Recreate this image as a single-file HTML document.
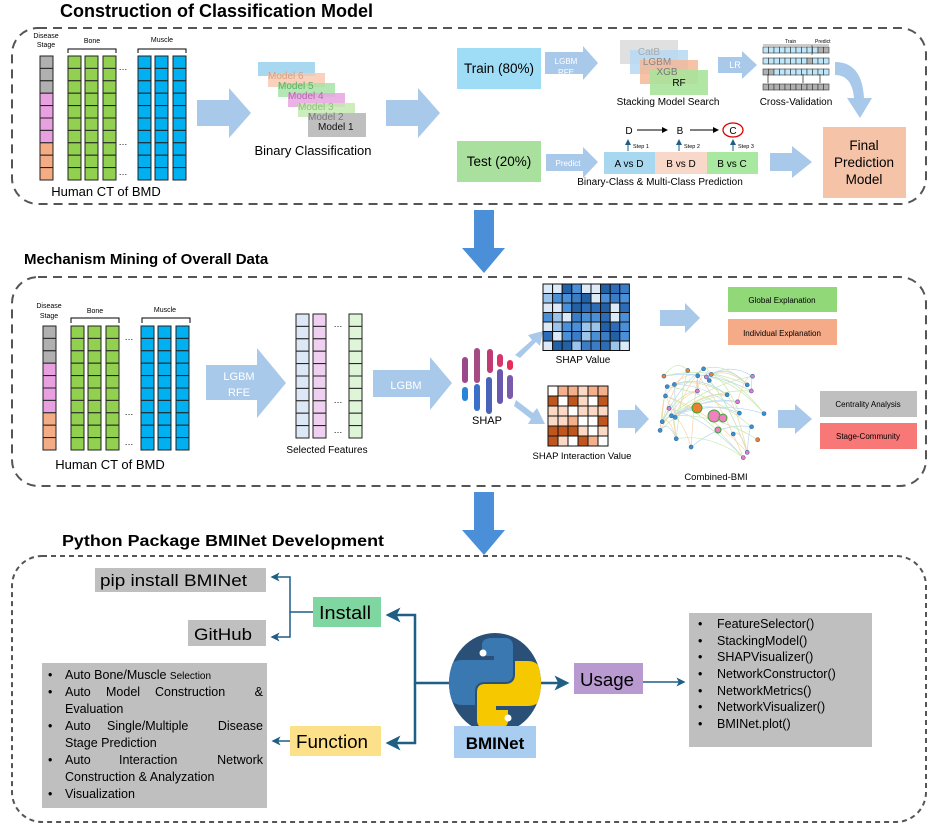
<!DOCTYPE html>
<html><head><meta charset="utf-8"><style>
html,body{margin:0;padding:0;background:#fff;}
svg{display:block;font-family:"Liberation Sans",sans-serif;}
</style></head><body>
<svg id="s" width="942" height="828" viewBox="0 0 942 828" xmlns="http://www.w3.org/2000/svg">
<defs>
<marker id="ah" markerWidth="6" markerHeight="6" refX="5" refY="3" orient="auto" markerUnits="strokeWidth"><path d="M0,0 L6,3 L0,6 L1.5,3 z" fill="#1f5f86"/></marker>
<marker id="ak" markerWidth="6" markerHeight="6" refX="5" refY="3" orient="auto"><path d="M0,0 L6,3 L0,6 z" fill="#000"/></marker>
<marker id="ab" markerWidth="6" markerHeight="6" refX="5" refY="3" orient="auto"><path d="M0,0 L6,3 L0,6 z" fill="#1f5f86"/></marker>
</defs>

<!-- Section 1 -->
<text x="60" y="17" font-size="18" font-weight="bold">Construction of Classification Model</text>
<rect x="12" y="28" width="914" height="176" rx="26" fill="none" stroke="#555" stroke-width="2" stroke-dasharray="9,6"/>
<g id="cols1"></g>
<text x="46" y="38" font-size="7" text-anchor="middle">Disease</text>
<text x="46" y="47" font-size="7" text-anchor="middle">Stage</text>
<text x="92" y="43" font-size="7" text-anchor="middle">Bone</text>
<text x="162" y="42" font-size="7" text-anchor="middle">Muscle</text>
<path d="M68,53 V49 H116 V53 M138,53 V49 H186 V53" fill="none" stroke="#000" stroke-width="1"/>
<text x="123" y="70" font-size="9" text-anchor="middle">…</text>
<text x="123" y="145" font-size="9" text-anchor="middle">…</text>
<text x="123" y="175" font-size="9" text-anchor="middle">…</text>
<text x="106" y="196" font-size="13" text-anchor="middle">Human CT of BMD</text>

<path d="M197,100 H229 V88 L251,113 L229,138 V126 H197 Z" fill="#a9c9ea"/>
<path d="M386,100 H418 V88 L440,113 L418,138 V126 H386 Z" fill="#a9c9ea"/>

<g font-size="10">
<rect x="258" y="62" width="57" height="14" fill="#a8d8f0"/>
<rect x="268" y="73" width="57" height="14" fill="#f8c9b0" opacity="0.85"/>
<rect x="278" y="83" width="57" height="14" fill="#a6e3a6" opacity="0.85"/>
<rect x="288" y="93" width="57" height="14" fill="#e8a6e0" opacity="0.85"/>
<rect x="298" y="103" width="57" height="14" fill="#c6eab0" opacity="0.85"/>
<rect x="308" y="113" width="58" height="24" fill="#bfbfbf"/>
<text x="268" y="79" fill="#d7a07f">Model 6</text>
<text x="278" y="89" fill="#5fae5f">Model 5</text>
<text x="288" y="99" fill="#b766b0">Model 4</text>
<text x="298" y="110" fill="#8ac47a">Model 3</text>
<text x="308" y="120" fill="#777">Model 2</text>
<text x="318" y="130" fill="#111">Model 1</text>
</g>
<text x="313" y="155" font-size="13" text-anchor="middle">Binary Classification</text>

<rect x="457" y="48" width="84" height="41" fill="#9fdcf5"/>
<text x="499" y="73" font-size="13.5" text-anchor="middle">Train (80%)</text>
<path d="M545,52 H583 V46 L598,63 L583,80 V74 H545 Z" fill="#a9c9ea"/>
<text x="566" y="64" font-size="8" fill="#fff" text-anchor="middle">LGBM</text>
<text x="566" y="75" font-size="8" fill="#fff" text-anchor="middle">RFE</text>
<rect x="620" y="40" width="58" height="24" fill="#e0e0e0"/>
<rect x="630" y="50" width="58" height="24" fill="#b6d8f2" opacity="0.85"/>
<rect x="640" y="60" width="58" height="24" fill="#f5b898" opacity="0.85"/>
<rect x="650" y="70" width="58" height="25" fill="#a8e39a" opacity="0.9"/>
<text x="649" y="55" font-size="10" fill="#aaa" text-anchor="middle">CatB</text>
<text x="657" y="65" font-size="10" fill="#888" text-anchor="middle">LGBM</text>
<text x="667" y="75" font-size="10" fill="#777" text-anchor="middle">XGB</text>
<text x="679" y="86" font-size="10" text-anchor="middle">RF</text>
<text x="668" y="105" font-size="10" text-anchor="middle">Stacking Model Search</text>
<path d="M718,57 H742 V51 L757,65 L742,79 V73 H718 Z" fill="#a9c9ea"/>
<text x="735" y="68" font-size="9" fill="#fff" text-anchor="middle">LR</text>
<g id="cv"></g>
<text x="785" y="43" font-size="5">Train</text><text x="815" y="43" font-size="5">Predict</text>
<text x="796" y="105" font-size="10" text-anchor="middle">Cross-Validation</text>
<path d="M835,62 Q862,62 864,98 L872,98 L860,118 L847,98 L854,98 Q852,75 835,75 Z" fill="#a9c9ea"/>
<rect x="823" y="127" width="83" height="71" fill="#f5c3a8"/>
<text x="864" y="150" font-size="13.5" text-anchor="middle">Final</text>
<text x="864" y="167" font-size="13.5" text-anchor="middle">Prediction</text>
<text x="864" y="184" font-size="13.5" text-anchor="middle">Model</text>

<rect x="457" y="141" width="84" height="41" fill="#a9e09e"/>
<text x="499" y="166" font-size="13.5" text-anchor="middle">Test (20%)</text>
<path d="M546,154 H583 V147 L598,162 L583,178 V171 H546 Z" fill="#a9c9ea"/>
<text x="568" y="166" font-size="8" fill="#fff" text-anchor="middle">Predict</text>
<rect x="604" y="152" width="51" height="22" fill="#a8d8f0"/><text x="629" y="167" font-size="10" text-anchor="middle">A vs D</text>
<rect x="655" y="152" width="52" height="22" fill="#f8d8c8"/><text x="681" y="167" font-size="10" text-anchor="middle">B vs D</text>
<rect x="707" y="152" width="51" height="22" fill="#a8e8a0"/><text x="732" y="167" font-size="10" text-anchor="middle">B vs C</text>
<text x="660" y="185" font-size="10" text-anchor="middle">Binary-Class &amp; Multi-Class Prediction</text>
<text x="629" y="134" font-size="10" text-anchor="middle">D</text>
<text x="680" y="134" font-size="10" text-anchor="middle">B</text>
<text x="733" y="134" font-size="10" text-anchor="middle">C</text>
<ellipse cx="733" cy="130" rx="10" ry="7" fill="none" stroke="#d00" stroke-width="1.3"/>
<line x1="637" y1="130" x2="667" y2="130" stroke="#000" stroke-width="1" marker-end="url(#ak)"/>
<line x1="690" y1="130" x2="718" y2="130" stroke="#000" stroke-width="1" marker-end="url(#ak)"/>
<g stroke="#1f5f86" stroke-width="1"><line x1="628" y1="151" x2="628" y2="140" marker-end="url(#ab)"/><line x1="679" y1="151" x2="679" y2="140" marker-end="url(#ab)"/><line x1="733" y1="151" x2="733" y2="140" marker-end="url(#ab)"/></g>
<text x="633" y="148" font-size="5.5">Step 1</text><text x="684" y="148" font-size="5.5">Step 2</text><text x="738" y="148" font-size="5.5">Step 3</text>
<path d="M770,153 H792 V146 L812,162 L792,178 V171 H770 Z" fill="#a9c9ea"/>

<path d="M474,210 H494 V248 H505 L484,273 L462,248 H474 Z" fill="#4a8fd8"/>

<!-- Section 2 -->
<text x="24" y="264" font-size="15" font-weight="bold">Mechanism Mining of Overall Data</text>
<rect x="12" y="277" width="914" height="209" rx="26" fill="none" stroke="#555" stroke-width="2" stroke-dasharray="9,6"/>
<g id="cols2"></g>
<text x="49" y="308" font-size="7" text-anchor="middle">Disease</text>
<text x="49" y="318" font-size="7" text-anchor="middle">Stage</text>
<text x="95" y="313" font-size="7" text-anchor="middle">Bone</text>
<text x="165" y="312" font-size="7" text-anchor="middle">Muscle</text>
<path d="M71,323 V318 H119 V323 M142,323 V318 H190 V323" fill="none" stroke="#000" stroke-width="1"/>
<text x="129" y="340" font-size="9" text-anchor="middle">…</text>
<text x="129" y="415" font-size="9" text-anchor="middle">…</text>
<text x="129" y="445" font-size="9" text-anchor="middle">…</text>
<text x="110" y="469" font-size="13" text-anchor="middle">Human CT of BMD</text>
<path d="M206,365 H257 V348 L286,383 L257,418 V400 H206 Z" fill="#a9c9ea"/>
<text x="239" y="380" font-size="11" fill="#fff" text-anchor="middle">LGBM</text>
<text x="239" y="396" font-size="11" fill="#fff" text-anchor="middle">RFE</text>
<g id="sel"></g>
<text x="338" y="327" font-size="9" text-anchor="middle">…</text>
<text x="338" y="403" font-size="9" text-anchor="middle">…</text>
<text x="338" y="433" font-size="9" text-anchor="middle">…</text>
<text x="327" y="453" font-size="10" text-anchor="middle">Selected Features</text>
<path d="M373,370 H430 V357 L452,383 L430,410 V397 H373 Z" fill="#a9c9ea"/>
<text x="406" y="389" font-size="11" fill="#fff" text-anchor="middle">LGBM</text>
<g stroke-linecap="round">
<line x1="465" y1="360" x2="465" y2="380" stroke="#9a4a8a" stroke-width="6"/>
<line x1="477" y1="351" x2="477" y2="380" stroke="#a64a86" stroke-width="6"/>
<line x1="490" y1="352" x2="490" y2="370" stroke="#c03a74" stroke-width="6"/>
<line x1="500" y1="357" x2="500" y2="364" stroke="#d8356a" stroke-width="6"/>
<line x1="510" y1="363" x2="510" y2="367" stroke="#e82a5a" stroke-width="6"/>
<line x1="465" y1="390" x2="465" y2="398" stroke="#2a84d8" stroke-width="6"/>
<line x1="477" y1="387" x2="477" y2="408" stroke="#3a70c8" stroke-width="6"/>
<line x1="489" y1="380" x2="489" y2="411" stroke="#4a62b8" stroke-width="6"/>
<line x1="500" y1="372" x2="500" y2="401" stroke="#6a58b0" stroke-width="6"/>
<line x1="510" y1="378" x2="510" y2="396" stroke="#7a5aaa" stroke-width="6"/>
</g>
<text x="487" y="424" font-size="11" text-anchor="middle">SHAP</text>
<path d="M515,355 L532,340 L528,335 L543,331 L540,346 L536,342 L520,358 Z" fill="#a9c9ea"/>
<path d="M516,400 L533,413 L537,408 L545,424 L528,424 L531,419 L514,406 Z" fill="#a9c9ea"/>
<g id="sv"></g>
<text x="583" y="363" font-size="10" text-anchor="middle">SHAP Value</text>
<path d="M660,310 H685 V303 L700,318 L685,333 V326 H660 Z" fill="#a9c9ea"/>
<rect x="728" y="287" width="109" height="25" fill="#90d878"/>
<text x="782" y="303" font-size="8" text-anchor="middle">Global Explanation</text>
<rect x="728" y="319" width="109" height="26" fill="#f5aa88"/>
<text x="782" y="336" font-size="8" text-anchor="middle">Individual Explanation</text>
<g id="si"></g>
<text x="582" y="459" font-size="9.5" text-anchor="middle">SHAP Interaction Value</text>
<path d="M618,410 H635 V404 L649,419 L635,434 V428 H618 Z" fill="#a9c9ea"/>
<g id="net"></g>
<text x="716" y="480" font-size="9.5" text-anchor="middle">Combined-BMI</text>
<path d="M778,410 H795 V404 L812,419 L795,434 V428 H778 Z" fill="#a9c9ea"/>
<rect x="820" y="391" width="97" height="26" fill="#bfbfbf"/>
<text x="868" y="407" font-size="8" text-anchor="middle">Centrality Analysis</text>
<rect x="820" y="423" width="97" height="26" fill="#f87878"/>
<text x="868" y="439" font-size="8" text-anchor="middle">Stage-Community</text>

<path d="M474,492 H494 V530 H505 L484,555 L462,530 H474 Z" fill="#4a8fd8"/>

<!-- Section 3 -->
<text x="62" y="546" font-size="16" font-weight="bold" textLength="322" lengthAdjust="spacingAndGlyphs">Python Package BMINet Development</text>
<rect x="12" y="556" width="914" height="266" rx="30" fill="none" stroke="#555" stroke-width="2" stroke-dasharray="5,4"/>
<rect x="95" y="568" width="171" height="24" fill="#bfbfbf"/>
<text x="100" y="586" font-size="17" textLength="147" lengthAdjust="spacingAndGlyphs">pip install BMINet</text>
<rect x="188" y="620" width="78" height="26" fill="#bfbfbf"/>
<text x="194" y="640" font-size="17" textLength="58" lengthAdjust="spacingAndGlyphs">GitHub</text>
<rect x="313" y="597" width="68" height="30" fill="#7fd6a0"/>
<text x="319" y="619" font-size="18" textLength="52" lengthAdjust="spacingAndGlyphs">Install</text>
<rect x="290" y="726" width="91" height="30" fill="#fde08a"/>
<text x="296" y="748" font-size="18" textLength="72" lengthAdjust="spacingAndGlyphs">Function</text>
<rect x="42" y="663" width="225" height="145" fill="#bfbfbf"/>
<g font-size="12.5">
<text x="48" y="679">•</text><text x="65" y="679">Auto Bone/Muscle <tspan font-size="10">Selection</tspan></text>
<text x="48" y="696">•</text><text x="65" y="696">Auto</text><text x="106" y="696">Model</text><text x="155" y="696">Construction</text><text x="263" y="696" text-anchor="end">&amp;</text>
<text x="65" y="713">Evaluation</text>
<text x="48" y="730">•</text><text x="65" y="730">Auto</text><text x="107" y="730">Single/Multiple</text><text x="263" y="730" text-anchor="end">Disease</text>
<text x="65" y="747">Stage Prediction</text>
<text x="48" y="764">•</text><text x="65" y="764">Auto</text><text x="119" y="764">Interaction</text><text x="263" y="764" text-anchor="end">Network</text>
<text x="65" y="781">Construction &amp; Analyzation</text>
<text x="48" y="798">•</text><text x="65" y="798">Visualization</text>
</g>
<!-- python logo -->
<ellipse cx="495" cy="683" rx="46" ry="50" fill="#2a5078"/>
<clipPath id="ec"><ellipse cx="495" cy="683" rx="46" ry="50"/></clipPath>
<g clip-path="url(#ec)">
<path d="M482,645 Q482,638 492,638 L505,638 Q513,638 513,646 L513,674 Q513,682 505,682 L485,682 Q475,682 475,692 L475,705 L462,705 Q449,705 449,690 L449,673 Q449,660 462,660 L494,660 L494,656 L482,656 Z" fill="#3a78b2"/>
<path d="M508,721 Q508,728 498,728 L485,728 Q477,728 477,720 L477,692 Q477,684 485,684 L505,684 Q515,684 515,674 L515,661 L528,661 Q541,661 541,676 L541,693 Q541,706 528,706 L496,706 L496,710 L508,710 Z" fill="#f5c800"/>
<circle cx="483" cy="653" r="3.5" fill="#fff"/>
<circle cx="508" cy="718" r="3.5" fill="#fff"/>
</g>
<rect x="454" y="726" width="82" height="32" fill="#a8cdf0"/>
<text x="495" y="749" font-size="17" font-weight="bold" text-anchor="middle">BMINet</text>
<rect x="574" y="663" width="69" height="31" fill="#b89ad0"/>
<text x="580" y="686" font-size="18" textLength="54" lengthAdjust="spacingAndGlyphs">Usage</text>
<rect x="689" y="613" width="183" height="134" fill="#bfbfbf"/>
<g font-size="12.5">
<text x="698" y="628">•</text><text x="717" y="628">FeatureSelector()</text>
<text x="698" y="645">•</text><text x="717" y="645">StackingModel()</text>
<text x="698" y="661">•</text><text x="717" y="661">SHAPVisualizer()</text>
<text x="698" y="678">•</text><text x="717" y="678">NetworkConstructor()</text>
<text x="698" y="695">•</text><text x="717" y="695">NetworkMetrics()</text>
<text x="698" y="711">•</text><text x="717" y="711">NetworkVisualizer()</text>
<text x="698" y="728">•</text><text x="717" y="728">BMINet.plot()</text>
</g>
<g fill="none" stroke="#1f5f86" stroke-width="2.5">
<path d="M449,683 H415 V615 H388" marker-end="url(#ah)"/>
<path d="M415,683 V743 H388" marker-end="url(#ah)"/>
<path d="M541,683 H567" marker-end="url(#ah)"/>
</g>
<g fill="none" stroke="#1f5f86" stroke-width="1.5">
<path d="M313,612 H290 V577 H272" marker-end="url(#ah)"/>
<path d="M290,612 V637 H272" marker-end="url(#ah)"/>
<path d="M290,741 H273" marker-end="url(#ah)"/>
<path d="M643,682 H684" marker-end="url(#ah)"/>
</g>
</svg>
<script>
(function(){
var NS="http://www.w3.org/2000/svg";
function el(p,t,a){var e=document.createElementNS(NS,t);for(var k in a)e.setAttribute(k,a[k]);p.appendChild(e);return e;}
var seed=7;function rnd(){seed=(seed*9301+49297)%233280;return seed/233280;}
function col(g,x,y,w,h,cols){var n=cols.length,ch=h/n;for(var i=0;i<n;i++)el(g,"rect",{x:x,y:y+i*ch,width:w,height:ch,fill:cols[i],stroke:"#222","stroke-width":1});}
function rep(c,n){var a=[];for(var i=0;i<n;i++)a.push(c);return a;}
var stage=["#b0b0b0","#b0b0b0","#b0b0b0","#e8a0e0","#e8a0e0","#e8a0e0","#e8a0e0","#f4ac84","#f4ac84","#f4ac84"];
function data(g,dx,y0,y1){var h=y1-y0;col(g,dx,y0,13,h,stage);
 [dx+28,dx+45,dx+63].forEach(function(x){col(g,x,y0,13,h,rep("#92d050",10));});
 [dx+98,dx+115,dx+133].forEach(function(x){col(g,x,y0,13,h,rep("#00b0f0",10));});}
data(document.getElementById("cols1"),40,56,180);
data(document.getElementById("cols2"),43,326,450);
var s=document.getElementById("sel");
col(s,296,314,13,124,rep("#dde8f7",10));col(s,313,314,13,124,rep("#f0d0f0",10));col(s,349,314,13,124,rep("#dff5d8",10));
var cv=document.getElementById("cv");
for(var r=0;r<4;r++){var yy=[47,58,69,84][r];for(var c=0;c<12;c++){var f=(r==3)?"#b0b0b0":((r==0&&c>=10)||(r==1&&c==8)||(r==2&&c<2)?"#b0b0b0":"#bfe6f8");el(cv,"rect",{x:763+c*5.5,y:yy,width:5.5,height:6,fill:f,stroke:"#333","stroke-width":0.6});}}
el(cv,"path",{d:"M763,45 H829 M812,45 V55",stroke:"#333","stroke-width":0.6,fill:"none"});
[768,803,820].forEach(function(x){el(cv,"line",{x1:x,y1:74,x2:x,y2:83,stroke:"#333","stroke-width":0.8});});
var sv=document.getElementById("sv"),bl=["#2361a6","#4a90d9","#9cc3ea","#dce9f7","#3b7cc6","#4a90d9","#2d6cb8"];
for(var r=0;r<7;r++)for(var c=0;c<9;c++)el(sv,"rect",{x:543+c*9.6,y:284+r*9.5,width:9.6,height:9.5,fill:bl[Math.floor(rnd()*bl.length)],stroke:"#111","stroke-width":1});
var si=document.getElementById("si"),or=["#ffffff","#c0561d","#f4b08a","#fbd9c4","#fbd9c4"];
for(var r=0;r<6;r++)for(var c=0;c<6;c++)el(si,"rect",{x:548+c*10,y:386+r*10,width:10,height:10,fill:r==c?"#fff":or[Math.floor(rnd()*or.length)],stroke:"#111","stroke-width":1});
var net=document.getElementById("net");var nodes=[];
for(var i=0;i<30;i++)nodes.push([660+rnd()*105,368+rnd()*100]);
for(var i=0;i<60;i++){var a=nodes[Math.floor(rnd()*30)],b=nodes[Math.floor(rnd()*30)];el(net,"path",{d:"M"+a[0]+","+a[1]+" Q"+(a[0]+b[0])/2+","+((a[1]+b[1])/2-15)+" "+b[0]+","+b[1],fill:"none",stroke:["#f8d2a8","#b8d8f0","#c8e8b0"][i%3],"stroke-width":0.7});}
nodes.forEach(function(n,i){el(net,"circle",{cx:n[0],cy:n[1],r:2,fill:i%4==0?"#e878c8":(i%5==0?"#f08030":"#3a90d0"),stroke:"#2a6aa0","stroke-width":0.6});});
el(net,"circle",{cx:697,cy:408,r:5,fill:"#f08030",stroke:"#3a3","stroke-width":1});
el(net,"circle",{cx:714,cy:416,r:6,fill:"#f080c0",stroke:"#3a3","stroke-width":1});
el(net,"circle",{cx:723,cy:418,r:4,fill:"#f080c0",stroke:"#3a3","stroke-width":1});
el(net,"circle",{cx:718,cy:430,r:3,fill:"#f080c0",stroke:"#3a3","stroke-width":1});
})();
</script>
</body></html>
